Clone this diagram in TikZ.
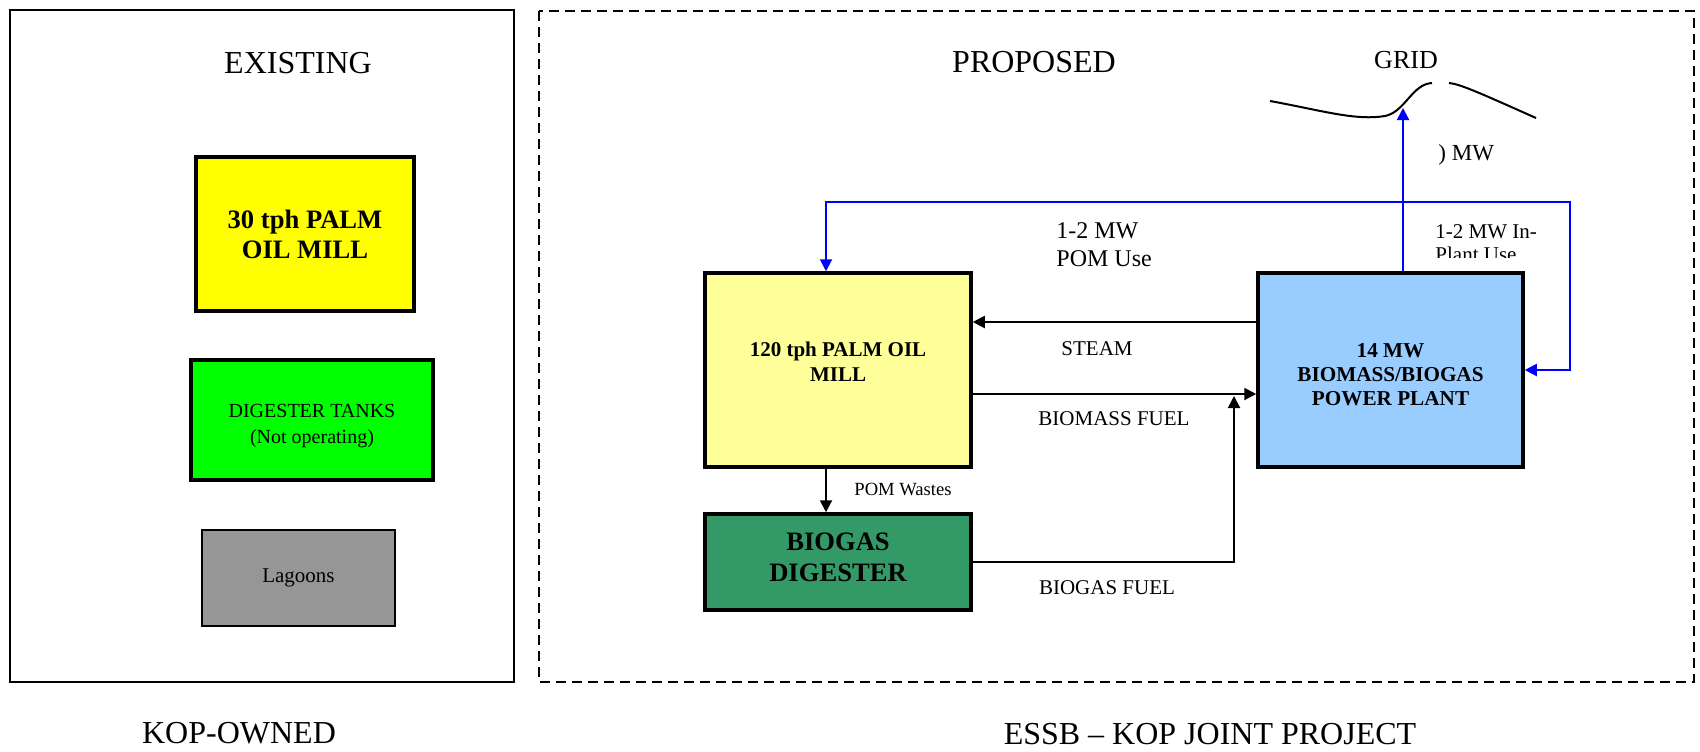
\documentclass[tikz,border=0pt]{standalone}
\usepackage{fontspec}
\setmainfont{Liberation Serif}
\usetikzlibrary{arrows.meta,calc}

\definecolor{millyellow}{HTML}{FFFF00}
\definecolor{tankgreen}{HTML}{00FF00}
\definecolor{lagoongray}{HTML}{969696}
\definecolor{pomyellow}{HTML}{FFFF99}
\definecolor{biogasgreen}{HTML}{339966}
\definecolor{plantblue}{HTML}{99CCFF}

\tikzset{
  heavybox/.style={draw=black, line width=1.75pt, inner sep=0pt, align=center},
  thinbox/.style={draw=black, line width=1pt, inner sep=0pt, align=center},
  boxtext/.style={inner sep=0pt, align=center},
  frame/.style={draw=black, line width=1pt},
  dashframe/.style={draw=black, line width=1pt, dash pattern=on 5pt off 3pt},
  flow/.style={draw=black, line width=1pt, -{Triangle[length=6pt,width=6pt]}},
  power/.style={draw=blue, line width=1pt, -{Triangle[length=6pt,width=6pt]}},
  title/.style={inner sep=0pt, font=\fontsize{16}{19}\selectfont},
  lbl/.style={inner sep=0pt, align=center, font=\fontsize{10.5}{12.5}\selectfont},
}

\begin{document}
\begin{tikzpicture}[x=0.5pt,y=-0.5pt]
\useasboundingbox (0,0) rectangle (1700,751);

% ---------- existing plant ----------
\draw[frame] (10,10) rectangle (514,682);
\node[title] (existingtitle) at (298,63) {EXISTING};
\node[heavybox, fill=millyellow, minimum width=109pt, minimum height=77pt,
      font=\fontsize{13.3}{15}\selectfont\bfseries] (oldmill) at (305,234) {30 tph PALM\\OIL MILL};
\node[heavybox, fill=tankgreen, minimum width=121pt, minimum height=60pt] (tanks) at (312,420) {};
\node[boxtext, font=\fontsize{10}{12.8}\selectfont] (tankstext) at (312,426) {DIGESTER TANKS\\(Not operating)};
\node[thinbox, fill=lagoongray, minimum width=96.5pt, minimum height=48pt,
      font=\fontsize{10.5}{12.5}\selectfont] (lagoons) at (298.5,578) {Lagoons};
\node[title] (kop) at (239,733) {KOP-OWNED};

% ---------- proposed project ----------
\draw[dashframe] (538.5,11) rectangle (1693.5,682);
\node[title] (proposedtitle) at (1034,62) {PROPOSED};
\node[title] (essb) at (1210,734) {ESSB -- KOP JOINT PROJECT};

\node[heavybox, fill=pomyellow, minimum width=133pt, minimum height=97pt] (mill) at (838,370) {};
\node[boxtext, font=\fontsize{10.5}{12.5}\selectfont\bfseries] (milltext) at (838,362) {120 tph PALM OIL\\MILL};
\node[heavybox, fill=biogasgreen, minimum width=133pt, minimum height=48pt] (digester) at (838,562) {};
\node[boxtext, font=\fontsize{13.3}{15.5}\selectfont\bfseries] (digestertext) at (838,557) {BIOGAS\\DIGESTER};
\node[heavybox, fill=plantblue, minimum width=132.5pt, minimum height=97pt] (plant) at (1390.5,370) {};
\node[boxtext, font=\fontsize{10.6}{12}\selectfont\bfseries] (planttext) at (1390.5,375) {14 MW\\BIOMASS/BIOGAS\\POWER PLANT};

% ---------- grid line ----------
\node[inner sep=0pt, font=\fontsize{13}{15}\selectfont] (grid) at (1406,60) {GRID};
\coordinate (gridtap) at (1403,108);
\draw[line width=1pt] (1270,101) .. controls (1320,110) and (1355,121) .. (1385,116)
      .. controls (1405,112) and (1412,84) .. (1432,83);
\draw[line width=1pt] (1449,83) .. controls (1460,84) and (1480,93) .. (1536,118);

% ---------- electrical flows ----------
\coordinate (junction) at (1403,202);
\coordinate (loopright) at (1570,202);
\coordinate (tapx) at (826,0);
\draw[power] (plant.north -| gridtap) -- (gridtap);
\draw[power] (junction) -| (mill.north -| tapx);
\draw[power] (junction) -- (loopright) |- (plant.east);

\node[inner sep=0pt, anchor=west, font=\fontsize{11.5}{13}\selectfont] (export) at (1438,155) {) MW};
\node[inner sep=0pt, anchor=west, align=left, font=\fontsize{12}{14}\selectfont] (pomuse) at (1056,245) {1-2 MW\\POM Use};
\begin{scope}
  \clip (1420,212) rectangle (1600,257);
  \node[inner sep=0pt, anchor=west, align=left, font=\fontsize{10.5}{11.5}\selectfont] (inplant) at (1435,243) {1-2 MW In-\\Plant Use};
\end{scope}

% ---------- process flows ----------
\coordinate (steamy) at (0,322);
\coordinate (biomassy) at (0,394);
\coordinate (biogastip) at (1234,396);
\draw[flow] (plant.west |- steamy) -- (mill.east |- steamy);
\draw[flow] (mill.east |- biomassy) -- (plant.west |- biomassy);
\draw[flow] (digester.east) -| (biogastip);
\draw[flow] (mill.south -| tapx) -- (digester.north -| tapx);

\node[lbl] (steam) at (1097,349) {STEAM};
\node[lbl] (biomass) at (1114,419) {BIOMASS FUEL};
\node[lbl] (biogas) at (1107,588) {BIOGAS FUEL};
\node[lbl, font=\fontsize{9.3}{11}\selectfont] (wastes) at (903,489) {POM Wastes};
\end{tikzpicture}
\end{document}
